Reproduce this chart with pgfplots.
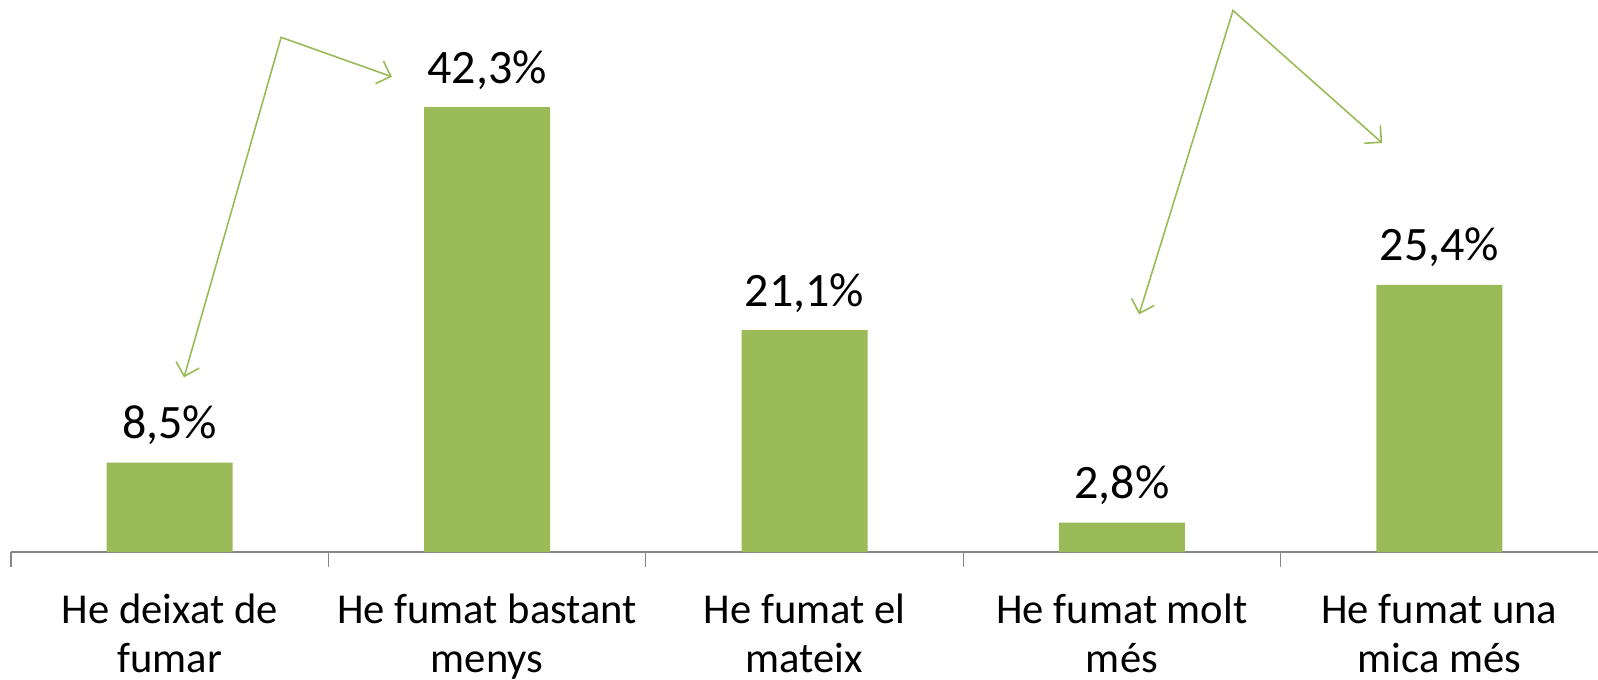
\documentclass[border=0pt]{standalone}
\usepackage{fontspec}
\setmainfont{Carlito}
\usepackage{pgfplots}
\pgfplotsset{compat=1.18}
\usetikzlibrary{arrows.meta}
\definecolor{barg}{HTML}{9BBB59}
\definecolor{axg}{HTML}{868686}
\begin{document}
\begin{tikzpicture}
\begin{axis}[
  scale only axis,
  width=793.5pt, height=276pt,
  xmin=-0.5, xmax=4.5, ymin=0, ymax=52.5,
  axis x line*=bottom, axis y line=none,
  x axis line style={draw=axg, line width=0.6pt, -},
  xtick={0,1,2,3,4},
  xticklabels={He deixat de\\fumar, He fumat bastant\\menys, He fumat el\\mateix, He fumat molt\\més, He fumat una\\mica més},
  minor xtick={-0.5,0.5,1.5,2.5,3.5},
  major tick length=0pt, minor tick length=7.5pt,
  tick align=outside,
  tick style={draw=axg, line width=0.6pt},
  xticklabel style={font=\fontsize{21.3}{24.5}\selectfont, align=center, anchor=base, yshift=-60pt},
  ybar, bar width=63pt,
  clip=false,
  point meta=explicit symbolic,
  nodes near coords,
  every node near coord/.append style={font=\fontsize{24}{28}\selectfont, anchor=base, yshift=12pt, text=black},
]
\addplot[fill=barg, draw=none] coordinates {
  (0,8.5) [8,5\%]
  (1,42.3) [42,3\%]
  (2,21.1) [21,1\%]
  (3,2.8) [2,8\%]
  (4,25.4) [25,4\%]
};
\draw[barg, line width=0.8pt, {Straight Barb[length=6pt,width=12pt]}-{Straight Barb[length=6pt,width=12pt]}]
  (axis cs:0.045,16.6) -- (axis cs:0.351,48.95) -- (axis cs:0.70,45.2);
\draw[barg, line width=0.8pt, {Straight Barb[length=6pt,width=12pt]}-{Straight Barb[length=6pt,width=12pt]}]
  (axis cs:3.054,22.6) -- (axis cs:3.35,51.5) -- (axis cs:3.82,38.9);
\end{axis}
\pgfresetboundingbox
\useasboundingbox (current axis.south west) ++(-5.5pt,-63.5pt) rectangle (current axis.north east);
\end{tikzpicture}
\end{document}
